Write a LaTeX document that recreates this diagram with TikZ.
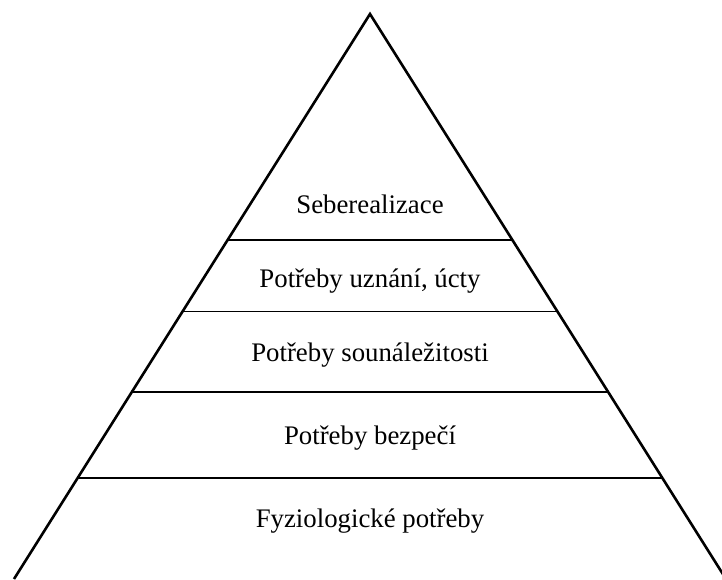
\documentclass[tikz,border=0pt]{standalone}
\usepackage{fontspec}
\setmainfont{Liberation Serif}
\usetikzlibrary{calc}

\tikzset{
  edge/.style={line width=2.6pt, line join=miter},
  level/.style={line width=1.4pt},
  tier/.style={font=\fontsize{26.8}{32}\selectfont, inner sep=0pt}
}

\begin{document}
\begin{tikzpicture}[x=1pt,y=-1pt]
\useasboundingbox (0,0) rectangle (722,579);
\coordinate (apex) at (370,14);
\coordinate (baseL) at (14,579);
\coordinate (baseR) at (726,579);
\draw[edge] (baseL) -- (apex) -- (baseR);
\foreach \t in {0.4,0.527,0.669,0.821}
    \draw[level] ($(apex)!\t!(baseL)$) -- ($(apex)!\t!(baseR)$);
\node[tier] (self) at (370,204) {Seberealizace};
\node[tier] (esteem) at (370,281) {Potřeby uznání, úcty};
\node[tier] (belong) at (370,355) {Potřeby sounáležitosti};
\node[tier] (safety) at (370,438) {Potřeby bezpečí};
\node[tier] (physio) at (370,521) {Fyziologické potřeby};
\end{tikzpicture}
\end{document}
